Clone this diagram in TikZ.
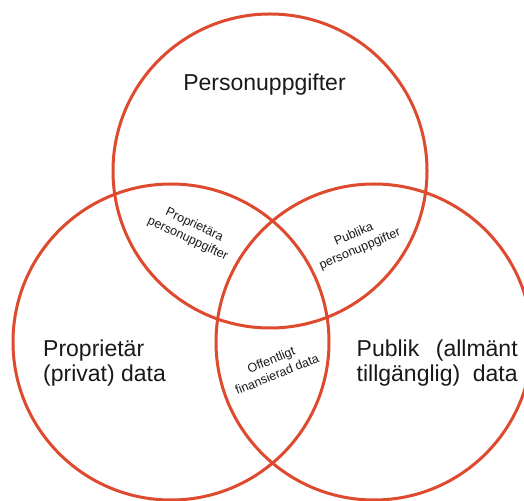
\documentclass[tikz,border=0pt]{standalone}
\usepackage{fontspec}
\setmainfont{Liberation Sans}
\definecolor{ring}{RGB}{222,74,46}
\begin{document}
\begin{tikzpicture}[x=1pt,y=1pt,
  ring/.style={draw=ring,line width=3pt},
  big/.style={inner sep=0pt,font=\fontsize{23}{26}\selectfont,text=black!90},
  small/.style={inner sep=0pt,align=center,font=\fontsize{12.5}{15.5}\selectfont,text=black!90}]
\useasboundingbox (0,0) rectangle (524,500);
\path[ring] (270,329) circle[radius=157];
\path[ring] (171,158) circle[radius=158];
\path[ring] (374,158) circle[radius=158];
\node[big,anchor=base] (pers) at (264.5,409) {Personuppgifter};
\node[big,anchor=base west] (prop1) at (43,143) {Proprietär};
\node[big,anchor=base west] (prop2) at (43,118) {(privat) data};
\node[big,anchor=base west] (pub1) at (356.5,143) {\makebox[161pt][s]{Publik (allmänt}};
\node[big,anchor=base west] (pub2) at (356.5,118) {\makebox[161pt][s]{tillgänglig) data}};
\node[small,rotate=-25] (pp) at (191,268) {Proprietära\\personuppgifter};
\node[small,rotate=23] (pubp) at (357,258) {Publika\\personuppgifter};
\node[small,rotate=22] (off) at (274,133) {Offentligt\\finansierad data};
\end{tikzpicture}
\end{document}
